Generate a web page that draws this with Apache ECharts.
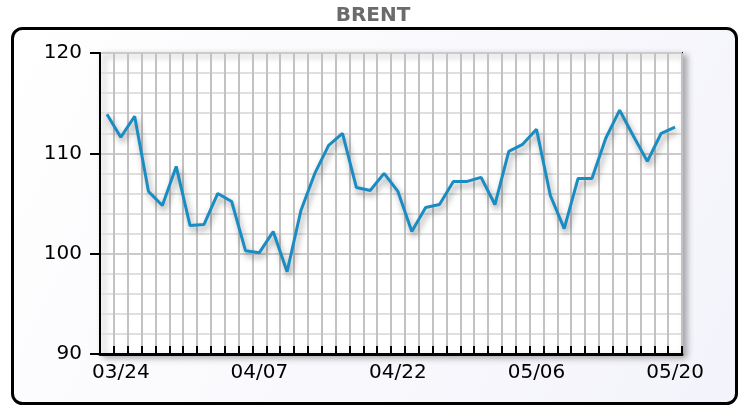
<!DOCTYPE html>
<html>
<head>
<meta charset="utf-8">
<script src="https://cdn.jsdelivr.net/npm/echarts@6/dist/echarts.min.js"></script>
<style>
html,body{margin:0;padding:0;background:#ffffff;}
#chart{width:746px;height:408px;}
</style>
</head>
<body>
<div id="chart"></div>
<script>
var chartTitle = 'BRENT';
var categories = ['03/21','03/24','03/25','03/26','03/27','03/28','03/31','04/01','04/02','04/03','04/04',
  '04/07','04/08','04/09','04/10','04/11','04/14','04/15','04/16','04/17','04/21',
  '04/22','04/23','04/24','04/25','04/28','04/29','04/30','05/01','05/02','05/05',
  '05/06','05/07','05/08','05/09','05/12','05/13','05/14','05/15','05/16','05/19','05/20'];
var brentValues = [113.9,111.6,113.7,106.2,104.8,108.7,102.8,102.9,106.0,105.2,100.3,
  100.1,102.2,98.2,104.3,108.0,110.8,112.0,106.6,106.3,108.0,
  106.2,102.2,104.6,104.9,107.2,107.2,107.6,104.9,110.2,110.9,
  112.4,105.8,102.5,107.5,107.5,111.5,114.3,111.7,109.2,112.0,112.6];
var labelIndexes = [1,11,21,31,41];
var yMin = 90, yMax = 120, yStep = 10;

var chart = echarts.init(document.getElementById('chart'));
var font = 'DejaVu Sans';
chart.setOption({
  animation: false,
  backgroundColor: '#ffffff',
  title: {
    text: chartTitle, left: 'center', top: 1,
    textStyle: {fontFamily: font, fontWeight: 'bold', fontSize: 20, color: '#6b6b6b'}
  },
  graphic: [{
    type: 'rect', z: -10, silent: true,
    shape: {x: 12.5, y: 28.5, width: 724, height: 375, r: 10},
    style: {
      fill: new echarts.graphic.LinearGradient(0, 0, 1, 1, [
        {offset: 0, color: '#ffffff'}, {offset: 1, color: '#f3f3fb'}
      ]),
      stroke: '#000000', lineWidth: 3
    }
  }],
  grid: {
    left: 100, right: 64, top: 53, bottom: 54,
    show: true, backgroundColor: '#ffffff', borderColor: '#000000', borderWidth: 2,
    shadowColor: 'rgba(0,0,0,0.3)', shadowBlur: 6, shadowOffsetX: 4, shadowOffsetY: 3
  },
  xAxis: {
    type: 'category', data: categories, boundaryGap: true,
    axisLine: {lineStyle: {color: '#000000', width: 3}},
    axisTick: {show: true, inside: true, length: 8, interval: 0, lineStyle: {color: '#000000', width: 2}},
    axisLabel: {
      interval: function (i) { return labelIndexes.indexOf(i) >= 0; },
      fontFamily: font, fontSize: 20, color: '#000000', margin: 9
    },
    splitLine: {show: true, interval: 0, lineStyle: {color: '#c2c2c2', width: 2}}
  },
  yAxis: {
    type: 'value', min: yMin, max: yMax, interval: yStep,
    axisLine: {show: true, lineStyle: {color: '#000000', width: 2}},
    axisTick: {show: true, inside: false, length: 10, lineStyle: {color: '#000000', width: 2}},
    axisLabel: {fontFamily: font, fontSize: 20, color: '#000000', margin: 18},
    splitLine: {show: true, lineStyle: {color: '#cbcbcb', width: 2}},
    minorTick: {show: false, splitNumber: 5},
    minorSplitLine: {show: true, lineStyle: {color: '#e0e0e0', width: 2}}
  },
  series: [{
    type: 'line', data: brentValues, symbol: 'none', smooth: false,
    lineStyle: {
      color: '#1a8cc4', width: 3,
      shadowColor: 'rgba(0,0,0,0.4)', shadowBlur: 6, shadowOffsetX: 2, shadowOffsetY: 4
    }
  }]
});
</script>
</body>
</html>
